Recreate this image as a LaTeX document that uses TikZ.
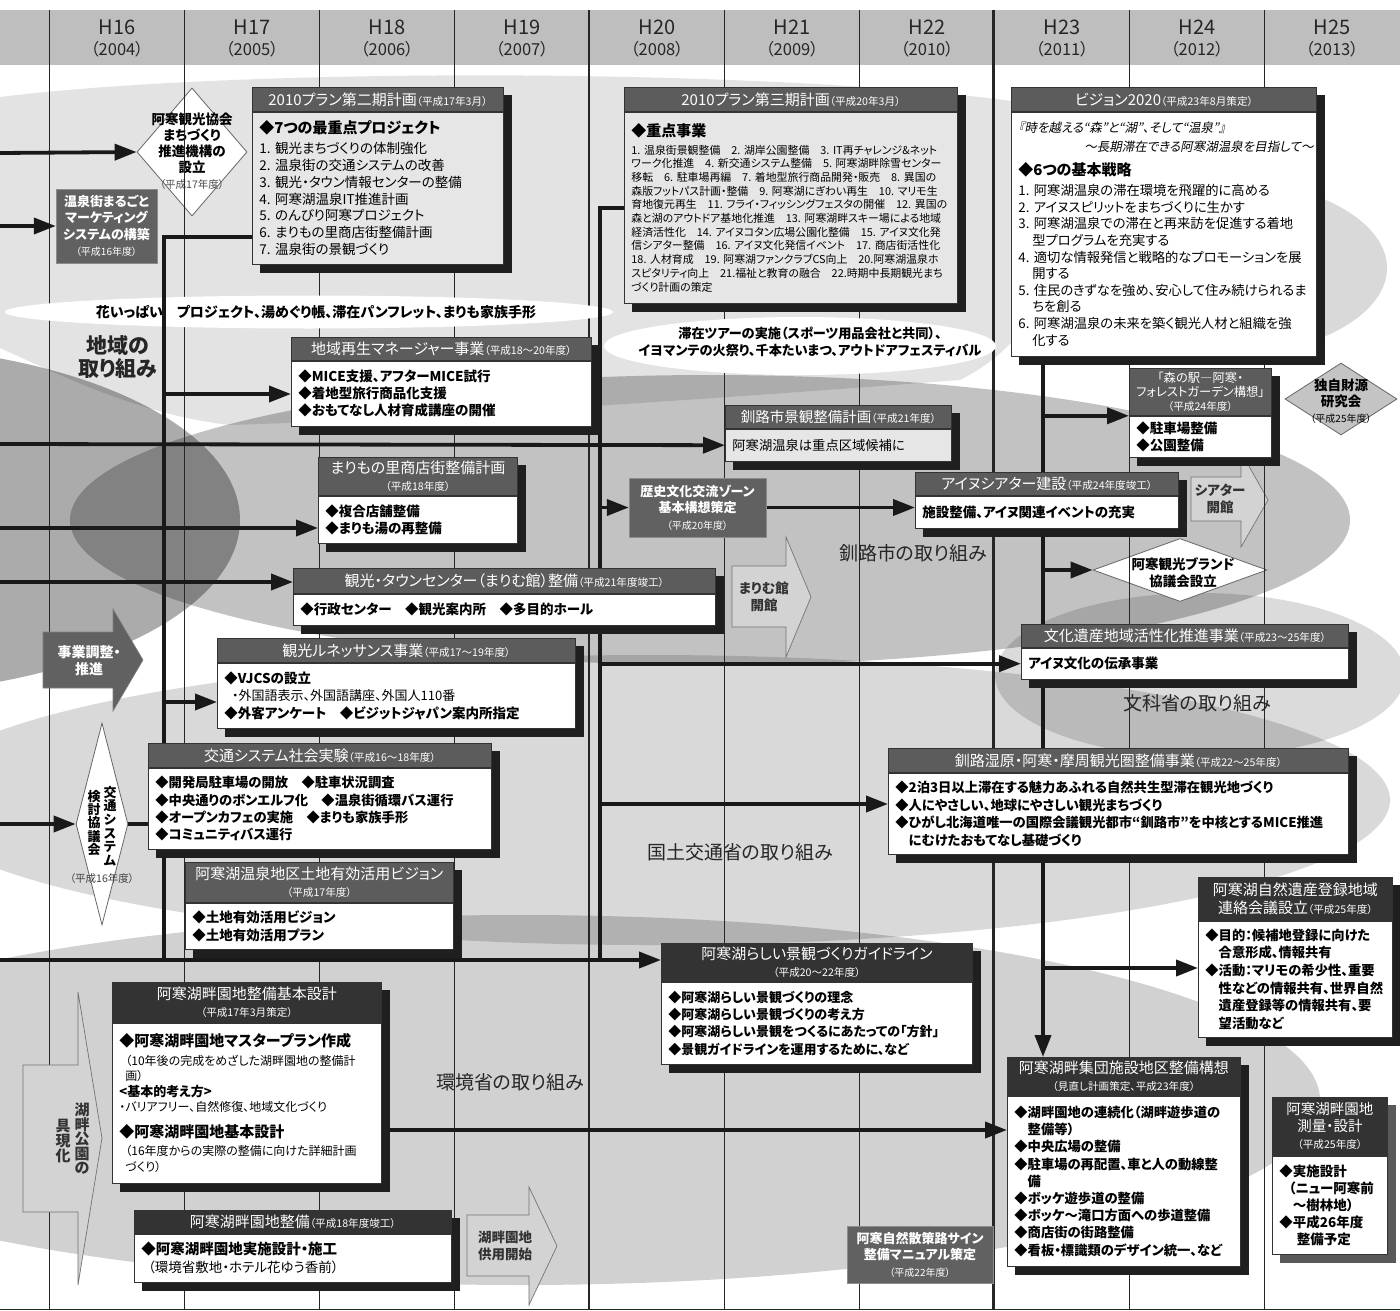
\documentclass[tikz,border=0pt]{standalone}
\usepackage{fontspec}
\setmainfont{Noto Sans CJK JP}[RawFeature={+palt}]
\newfontfamily\slfont{Noto Sans CJK JP}[FakeSlant=0.2,RawFeature={+palt}]
\usetikzlibrary{arrows.meta,positioning,calc,shapes.geometric}
\pgfdeclarelayer{blobs}
\pgfdeclarelayer{lines}
\pgfdeclarelayer{shade}
\pgfsetlayers{blobs,lines,shade,main}
\definecolor{bandgray}{HTML}{BEBEBE}
\definecolor{headgray}{HTML}{5C5C5C}
\definecolor{headdark}{HTML}{333333}
\definecolor{bodygray}{HTML}{E6E6E6}
\definecolor{arrowgray}{HTML}{D3D3D3}
\newcommand\fsz[2]{\fontsize{#1}{#2}\selectfont}
\newcommand\nendo[1]{{\fsz{10.6}{12.5}\mdseries #1}}
\newcommand\boxshadow[3][black!88]{%
  \begin{pgfonlayer}{shade}
    \fill[#1] ($(#2.north west)+(8,8)$) rectangle ($(#3.south east)+(8,8)$);
  \end{pgfonlayer}}

\begin{document}
\begin{tikzpicture}[x=1pt, y=-1pt,
    head/.style={rectangle, draw=black!80, line width=0.8pt, fill=headgray, text=white, align=center, anchor=north west, inner xsep=6pt, inner ysep=1pt, font=\fsz{15}{17.5}},
    envhead/.style={head, fill=headdark},
    body/.style={rectangle, draw=black!80, line width=0.8pt, fill=white, align=left, anchor=north west, inner xsep=7pt, inner ysep=2pt, font=\fsz{13}{17}\bfseries},
    graybody/.style={body, fill=bodygray},
    darkbox/.style={rectangle, draw=black!45, fill=black!62, text=white, align=center, inner sep=2pt, font=\fsz{13}{16.5}\bfseries},
    diam/.style={diamond, draw=black!60, line width=0.8pt, fill=white, inner sep=0pt},
    oval/.style={ellipse, fill=white, inner sep=0pt},
    blabel/.style={align=center, text=black!85, font=\fsz{19}{22}},
    arrtext/.style={align=center, text=black!80, font=\fsz{13.5}{17}\bfseries},
    yearlab/.style={align=center, text=black!85, font=\fsz{20}{21}},
    blockarrow/.style={fill=arrowgray, draw=black!55, line width=0.7pt},
    conn/.style={line width=3.8pt, black!90},
    arr/.style={conn, -{Triangle[length=22pt,width=16pt]}},
    gridline/.style={line width=0.8pt, black!85}
  ]
  \useasboundingbox (0,0) rectangle (1400,1311);

  % background
  \begin{pgfonlayer}{blobs}
    \fill[white] (0,0) rectangle (1400,1311);
    \fill[bandgray] (0,10) rectangle (1400,65);
    \begin{scope}
      \clip (0,0) rectangle (1400,1311);
      \fill[black, fill opacity=.11] (0,97) .. controls (250,66) and (800,68) .. (1040,105)
        .. controls (1080,220) and (1060,330) .. (960,380)
        .. controls (700,400) and (400,420) .. (230,425)
        .. controls (140,415) and (60,375) .. (0,348) -- cycle;
      \fill[black, fill opacity=.15] (1210,268) ellipse [x radius=177, y radius=90];
      \fill[black, fill opacity=.33] (-150,520) ellipse [x radius=390, y radius=175];
      \fill[black, fill opacity=.24] (710,520) ellipse [x radius=640, y radius=145];
      \fill[black, fill opacity=.14] (1200,675) ellipse [x radius=205, y radius=82];
      \fill[black, fill opacity=.15] (650,800) ellipse [x radius=740, y radius=145];
      \fill[black, fill opacity=.18] (520,1100) ellipse [x radius=800, y radius=185];
    \end{scope}

    % diamonds
    \node[diam, minimum width=110pt, minimum height=128pt] (kyokai) at (192,152) {};
    \node[align=center, font=\fsz{13.5}{16}\bfseries] (kyokaitxt) at (192,151)
      {阿寒観光協会\\まちづくり\\推進機構の\\設立\\{\fsz{10.5}{12}\mdseries\color{black!70}（平成17年度）}};
    \node[diam, minimum width=174pt, minimum height=63pt] (brand) at (1180,570) {};
    \node[align=center, font=\fsz{13.5}{17}\bfseries] (brandtxt) at (1183,573) {阿寒観光ブランド\\協議会設立};
    \node[diam, fill=black!23, minimum width=112pt, minimum height=72pt] (zaigen) at (1341,399) {};
    \node[align=center, font=\fsz{13.5}{16}\bfseries] (zaigentxt) at (1341,401)
      {独自財源\\研究会\\{\fsz{10}{11}\mdseries（平成25年度）}};
    \node[diam, minimum width=52pt, minimum height=202pt] (kotsukyo) at (102,824) {};
    \node[align=center, font=\fsz{13}{13.6}\bfseries] (kotsukyoR) at (110,826) {交\\通\\シ\\ス\\テ\\ム};
    \node[align=center, font=\fsz{13}{12.3}\bfseries] (kotsukyoL) at (94,823) {検\\討\\協\\議\\会};
    \node[font=\fsz{10.5}{12}, text=black!75] (kotsukyoyr) at (102,879) {（平成16年度）};

    % labels
    \node[blabel, font=\fsz{21}{23}\bfseries] (chiiki) at (118,357) {地域の\\取り組み};
    \node[blabel] (kushiro) at (913,553) {釧路市の取り組み};
    \node[blabel] (monka) at (1197,703) {文科省の取り組み};
    \node[blabel] (kokudo) at (740,852) {国土交通省の取り組み};
    \node[blabel] (kankyo) at (510,1082) {環境省の取り組み};

    % light block arrows
    \draw[blockarrow] (1191,477) -- (1241,477) -- (1241,452) -- (1268,500) -- (1241,547) -- (1241,521) -- (1191,521) -- cycle;
    \node[arrtext] (theateropen) at (1220,499) {シアター\\開館};
    \draw[blockarrow] (732,566) -- (786,566) -- (786,537) -- (811,597) -- (786,657) -- (786,627) -- (732,627) -- cycle;
    \node[arrtext] (marimuopen) at (764,597) {まりむ館\\開館};
    \draw[blockarrow] (467,1215) -- (529,1215) -- (529,1187) -- (557,1246) -- (529,1305) -- (529,1276) -- (467,1276) -- cycle;
    \node[arrtext] (kohanopen) at (505,1246) {湖畔園地\\供用開始};

    % year grid
    \foreach \i in {0,...,9}
      \draw[gridline] (49+135*\i,10) -- (49+135*\i,1310);
    \draw[gridline, line width=1.6pt] (589,10) -- (589,1310);
    \draw[gridline, line width=1.6pt] (993,10) -- (993,1310);
    \draw[gridline] (0,1309) -- (1400,1309);
    \foreach \i in {0,...,9}{
      \pgfmathtruncatemacro\hy{16+\i}
      \pgfmathtruncatemacro\wy{2004+\i}
      \node[yearlab] (yr\i) at (117+135*\i,38) {H\hy\\{\fsz{16.5}{18}（\wy）}};
    }

    % white ovals
    \node[oval, minimum width=608pt, minimum height=33pt] (hana) at (309,312) {};
    \node[font=\fsz{14}{16}\bfseries] (hanatxt) at (316,312)
      {花いっぱい　プロジェクト、湯めぐり帳、滞在パンフレット、まりも家族手形};
    \node[oval, minimum width=392pt, minimum height=58pt] (taizai) at (800,346) {};
    \node[align=center, font=\fsz{13.2}{17.5}\bfseries] (taizaitxt) at (810,342)
      {滞在ツアーの実施（スポーツ用品会社と共同）、\\イヨマンテの火祭り、千本たいまつ、アウトドアフェスティバル};
  \end{pgfonlayer}

  % ---- 地域の取り組み
  \node[darkbox, minimum width=101pt, minimum height=74pt] (marugoto) at (106.5,226)
    {温泉街まるごと\\マーケティング\\システムの構築\\{\fsz{10}{12}\mdseries（平成16年度）}};

  \node[head, text width=239pt, minimum height=24pt] (plan2h) at (252,87) {2010プラン第二期計画\nendo{（平成17年3月）}};
  \node[graybody, text width=237pt, minimum height=152pt, font=\fsz{13.5}{16.8}\mdseries] (plan2) at (plan2h.south west)
    {{\fsz{15}{18}\bfseries ◆7つの最重点プロジェクト}\\[3pt]
     1.~観光まちづくりの体制強化\\
     2.~温泉街の交通システムの改善\\
     3.~観光・タウン情報センターの整備\\
     4.~阿寒湖温泉IT推進計画\\
     5.~のんびり阿寒プロジェクト\\
     6.~まりもの里商店街整備計画\\
     7.~温泉街の景観づくり};
  \boxshadow{plan2h}{plan2}

  \node[head, text width=321pt, minimum height=24pt] (plan3h) at (624,87) {2010プラン第三期計画\nendo{（平成20年3月）}};
  \node[graybody, text width=319pt, minimum height=191pt, font=\fsz{10.9}{13.7}\mdseries] (plan3) at (plan3h.south west)
    {{\fsz{15}{18}\bfseries ◆重点事業}\\[4pt]
     1.~温泉街景観整備　2.~湖岸公園整備　3.~IT再チャレンジ\&ネット\\
     ワーク化推進　4.~新交通システム整備　5.~阿寒湖畔除雪センター\\
     移転　6.~駐車場再編　7.~着地型旅行商品開発・販売　8.~異国の\\
     森版フットパス計画・整備　9.~阿寒湖にぎわい再生　10.~マリモ生\\
     育地復元再生　11.~フライ・フィッシングフェスタの開催　12.~異国の\\
     森と湖のアウトドア基地化推進　13.~阿寒湖畔スキー場による地域\\
     経済活性化　14.~アイヌコタン広場公園化整備　15.~アイヌ文化発\\
     信シアター整備　16.~アイヌ文化発信イベント　17.~商店街活性化\\
     18.~人材育成　19.~阿寒湖ファンクラブCS向上　20.阿寒湖温泉ホ\\
     スピタリティ向上　21.福祉と教育の融合　22.時期中長期観光まち\\
     づくり計画の策定};
  \boxshadow{plan3h}{plan3}

  \node[head, text width=293pt, minimum height=24pt] (visionh) at (1011,87) {ビジョン2020\nendo{（平成23年8月策定）}};
  \node[body, text width=291pt, minimum height=244pt, font=\fsz{13.3}{16.6}\mdseries] (vision) at (visionh.south west)
    {{\slfont\fsz{12.5}{16}『時を越える“森”と“湖”、そして“温泉”』}\\[2pt]
     \hspace*{66pt}{\slfont\fsz{12.5}{16}〜長期滞在できる阿寒湖温泉を目指して〜}\\[7pt]
     {\fsz{15}{18}\bfseries ◆6つの基本戦略}\\[4pt]
     1.~阿寒湖温泉の滞在環境を飛躍的に高める\\
     2.~アイヌスピリットをまちづくりに生かす\\
     3.~阿寒湖温泉での滞在と再来訪を促進する着地\\
     \hspace*{1.05em}型プログラムを充実する\\
     4.~適切な情報発信と戦略的なプロモーションを展\\
     \hspace*{1.05em}開する\\
     5.~住民のきずなを強め、安心して住み続けられるま\\
     \hspace*{1.05em}ちを創る\\
     6.~阿寒湖温泉の未来を築く観光人材と組織を強\\
     \hspace*{1.05em}化する};
  \boxshadow{visionh}{vision}

  \node[head, text width=288pt, minimum height=23pt] (saiseih) at (291,337) {地域再生マネージャー事業\nendo{（平成18〜20年度）}};
  \node[body, text width=286pt, minimum height=65pt, font=\fsz{13.5}{17}\bfseries] (saisei) at (saiseih.south west)
    {◆MICE支援、アフターMICE試行\\◆着地型旅行商品化支援\\◆おもてなし人材育成講座の開催};
  \boxshadow{saiseih}{saisei}

  \node[head, text width=187pt, minimum height=38pt] (marimoh) at (318,457) {まりもの里商店街整備計画\\\nendo{（平成18年度）}};
  \node[body, text width=185pt, minimum height=47pt, font=\fsz{13.5}{17}\bfseries] (marimo) at (marimoh.south west)
    {◆複合店舗整備\\◆まりも湯の再整備};
  \boxshadow{marimoh}{marimo}

  \node[head, text width=410pt, minimum height=25pt] (marimukanh) at (293,568) {観光・タウンセンター（まりむ館）整備\nendo{（平成21年度竣工）}};
  \node[body, text width=408pt, minimum height=31pt, font=\fsz{13.5}{17}\bfseries] (marimukan) at (marimukanh.south west)
    {◆行政センター　◆観光案内所　◆多目的ホール};
  \boxshadow{marimukanh}{marimukan}

  \node[head, text width=346pt, minimum height=24pt] (renaih) at (217,638) {観光ルネッサンス事業\nendo{（平成17〜19年度）}};
  \node[body, text width=344pt, minimum height=65pt, font=\fsz{13.5}{17.5}\bfseries] (renai) at (renaih.south west)
    {◆VJCSの設立\\{\mdseries\fsz{13}{15}\hspace*{0.6em}・外国語表示、外国語講座、外国人110番}\\◆外客アンケート　◆ビジットジャパン案内所指定};
  \boxshadow{renaih}{renai}

  \draw[fill=black!62, draw=black!50, line width=0.6pt] (43,632) -- (113,632) -- (113,609) -- (143,660) -- (113,711) -- (113,688) -- (43,688) -- cycle;
  \node[align=center, text=white, font=\fsz{14}{17}\bfseries] (jigyo) at (89,661) {事業調整・\\推進};

  \node[head, text width=331pt, minimum height=24pt] (kotsuh) at (148,743) {交通システム社会実験\nendo{（平成16〜18年度）}};
  \node[body, text width=329pt, minimum height=81pt, font=\fsz{13.3}{17.3}\bfseries] (kotsu) at (kotsuh.south west)
    {◆開発局駐車場の開放　◆駐車状況調査\\◆中央通りのボンエルフ化　◆温泉街循環バス運行\\◆オープンカフェの実施　◆まりも家族手形\\◆コミュニティバス運行};
  \boxshadow{kotsuh}{kotsu}

  \node[head, text width=256pt, minimum height=40pt] (tochih) at (185,862) {阿寒湖温泉地区土地有効活用ビジョン\\\nendo{（平成17年度）}};
  \node[body, text width=254pt, minimum height=46pt, font=\fsz{13.5}{18}\bfseries] (tochi) at (tochih.south west)
    {◆土地有効活用ビジョン\\◆土地有効活用プラン};
  \boxshadow{tochih}{tochi}

  % ---- 釧路市・文科省・国土交通省
  \node[head, text width=214pt, minimum height=23pt, font=\fsz{14.5}{17}] (keikanh) at (725,405) {釧路市景観整備計画\nendo{（平成21年度）}};
  \node[graybody, text width=212pt, minimum height=32pt, font=\fsz{13.3}{17}\mdseries] (keikan) at (keikanh.south west)
    {阿寒湖温泉は重点区域候補に};
  \boxshadow{keikanh}{keikan}

  \node[darkbox, minimum width=137pt, minimum height=59pt] (rekishi) at (697.5,507.5)
    {歴史文化交流ゾーン\\基本構想策定\\{\fsz{10}{12}\mdseries（平成20年度）}};

  \node[head, text width=130pt, minimum height=47pt, font=\fsz{12.3}{14}] (morinoekih) at (1129,368)
    {「森の駅―阿寒・\\フォレストガーデン構想」\\\nendo{（平成24年度）}};
  \node[body, text width=128pt, minimum height=41pt, font=\fsz{13.5}{17}\bfseries] (morinoeki) at (morinoekih.south west)
    {◆駐車場整備\\◆公園整備};
  \boxshadow{morinoekih}{morinoeki}

  \node[head, text width=251pt, minimum height=23pt] (theaterh) at (915,472) {アイヌシアター建設\nendo{（平成24年度竣工）}};
  \node[body, text width=249pt, minimum height=32pt, font=\fsz{13.5}{17}\bfseries] (theater) at (theaterh.south west)
    {施設整備、アイヌ関連イベントの充実};
  \boxshadow{theaterh}{theater}

  \node[head, text width=315pt, minimum height=23pt] (bunkah) at (1021,624) {文化遺産地域活性化推進事業\nendo{（平成23〜25年度）}};
  \node[body, text width=313pt, minimum height=31pt, font=\fsz{13.5}{17}\bfseries] (bunka) at (bunkah.south west)
    {アイヌ文化の伝承事業};
  \boxshadow{bunkah}{bunka}

  \node[head, text width=448pt, minimum height=24pt] (kankokenh) at (888,748) {釧路湿原・阿寒・摩周観光圏整備事業\nendo{（平成22〜25年度）}};
  \node[body, text width=446pt, minimum height=81pt, font=\fsz{13.3}{17.5}\bfseries] (kankoken) at (kankokenh.south west)
    {◆2泊3日以上滞在する魅力あふれる自然共生型滞在観光地づくり\\
     ◆人にやさしい、地球にやさしい観光まちづくり\\
     ◆ひがし北海道唯一の国際会議観光都市“釧路市”を中核とするMICE推進\\
     \hspace*{1em}にむけたおもてなし基礎づくり};
  \boxshadow{kankokenh}{kankoken}

  % ---- 環境省の取り組み
  \node[envhead, text width=182pt, minimum height=43pt] (isanh) at (1198,877) {阿寒湖自然遺産登録地域\\連絡会議設立\nendo{（平成25年度）}};
  \node[body, text width=180pt, minimum height=116pt, font=\fsz{13.3}{17.7}\bfseries] (isan) at (isanh.south west)
    {◆目的：候補地登録に向けた\\\hspace*{1em}合意形成、情報共有\\◆活動：マリモの希少性、重要\\\hspace*{1em}性などの情報共有、世界自然\\\hspace*{1em}遺産登録等の情報共有、要\\\hspace*{1em}望活動など};
  \boxshadow{isanh}{isan}

  \node[envhead, text width=299pt, minimum height=38pt] (guideh) at (661,943) {阿寒湖らしい景観づくりガイドライン\\\nendo{（平成20〜22年度）}};
  \node[body, text width=297pt, minimum height=82pt, font=\fsz{13}{17.4}\bfseries] (guide) at (guideh.south west)
    {◆阿寒湖らしい景観づくりの理念\\◆阿寒湖らしい景観づくりの考え方\\◆阿寒湖らしい景観をつくるにあたっての「方針」\\◆景観ガイドラインを運用するために、など};
  \boxshadow{guideh}{guide}

  \node[envhead, text width=257pt, minimum height=40pt] (kihonh) at (112,982) {阿寒湖畔園地整備基本設計\\\nendo{（平成17年3月策定）}};
  \node[body, text width=255pt, minimum height=160pt, font=\fsz{12}{15.5}\mdseries] (kihon) at (kihonh.south west)
    {{\fsz{15}{18}\bfseries ◆阿寒湖畔園地マスタープラン作成}\\[3pt]
     \hspace*{0.5em}（10年後の完成をめざした湖畔園地の整備計\\
     \hspace*{0.5em}画）\\
     {\fsz{13}{15}\bfseries <基本的考え方>}\\
     ・バリアフリー、自然修復、地域文化づくり\\[10pt]
     {\fsz{15}{18}\bfseries ◆阿寒湖畔園地基本設計}\\[3pt]
     \hspace*{0.5em}（16年度からの実際の整備に向けた詳細計画\\
     \hspace*{0.5em}づくり）};
  \boxshadow{kihonh}{kihon}

  \draw[blockarrow] (23,1065) -- (78,1065) -- (78,992) -- (102,1138) -- (78,1285) -- (78,1212) -- (23,1212) -- cycle;
  \node[align=center, text=black!80, font=\fsz{15}{14.5}\bfseries] (gugenR) at (82,1139) {湖\\畔\\公\\園\\の};
  \node[align=center, text=black!80, font=\fsz{15}{15}\bfseries] (gugenL) at (63,1141) {具\\現\\化};

  \node[envhead, text width=305pt, minimum height=23pt] (seibih) at (134,1210) {阿寒湖畔園地整備\nendo{（平成18年度竣工）}};
  \node[body, text width=303pt, minimum height=48pt, font=\fsz{13.5}{18}\bfseries] (seibi) at (seibih.south west)
    {{\fsz{14.5}{18}◆阿寒湖畔園地実施設計・施工}\\{\mdseries\hspace*{0.5em}（環境省敷地・ホテル花ゆう香前）}};
  \boxshadow{seibih}{seibi}

  \node[darkbox, minimum width=146pt, minimum height=57pt] (sansaku) at (920,1254.5)
    {阿寒自然散策路サイン\\整備マニュアル策定\\{\fsz{10}{12}\mdseries（平成22年度）}};

  \node[envhead, text width=221pt, minimum height=38pt] (shudanh) at (1007,1057) {阿寒湖畔集団施設地区整備構想\\\nendo{（見直し計画策定、平成23年度）}};
  \node[body, text width=219pt, minimum height=170pt, font=\fsz{13.3}{17.2}\bfseries] (shudan) at (shudanh.south west)
    {◆湖畔園地の連続化（湖畔遊歩道の\\\hspace*{1em}整備等）\\◆中央広場の整備\\◆駐車場の再配置、車と人の動線整\\\hspace*{1em}備\\◆ボッケ遊歩道の整備\\◆ボッケ〜滝口方面への歩道整備\\◆商店街の街路整備\\◆看板・標識類のデザイン統一、など};
  \boxshadow{shudanh}{shudan}

  \node[envhead, text width=103pt, minimum height=58pt, font=\fsz{14.5}{17}] (sokuryoh) at (1272,1097) {阿寒湖畔園地\\測量・設計\\\nendo{（平成25年度）}};
  \node[body, text width=101pt, minimum height=98pt, font=\fsz{13.5}{17}\bfseries] (sokuryo) at (sokuryoh.south west)
    {◆実施設計\\\hspace*{0.7em}（ニュー阿寒前\\\hspace*{1em}〜樹林地）\\◆平成26年度\\\hspace*{1.3em}整備予定};
  \boxshadow[black!65]{sokuryoh}{sokuryo}

  % connectors
  \begin{pgfonlayer}{lines}
    \coordinate (in1) at (0,153);
    \coordinate (in2) at (0,226);
    \coordinate (in3) at (0,444);
    \coordinate (in4) at (0,528);
    \coordinate (in5) at (0,582);
    \coordinate (in6) at (0,824);
    \coordinate (in7) at (0,960);
    \coordinate (trA) at (164,237);
    \coordinate (trB) at (600,208);
    \coordinate (trC) at (1043,355);
    \coordinate (y394) at (0,394);
    \coordinate (y702) at (0,702);
    \coordinate (y804) at (0,804);
    \coordinate (y968) at (0,968);
    \coordinate (y1130) at (0,1130);

    \draw[arr] (in1) -- (kyokai.west);
    \draw[arr] (in2) -- (marugoto.west);
    \draw[arr] (in3) -- (keikan.west);
    \draw[arr] (in4) -- (in4 -| marimo.west);
    \draw[arr] (in5) -- (in5 -| marimukanh.west);
    \draw[arr] (in6) -- (kotsukyo.west);
    \draw[conn] (kotsukyo.east) -- (kotsukyo.east -| kotsu.west);
    \draw[arr] (in7) -- (in7 -| guideh.west);

    \draw[conn] (trA -| plan2.west) -- (trA) -- (trA |- in7);
    \draw[arr] (trA |- y394) -- (y394 -| saisei.west);
    \draw[arr] (trA |- y702) -- (y702 -| renai.west);

    \draw[conn] (trB -| plan3.west) -- (trB) -- (trB |- in7);
    \draw[arr] (trB |- rekishi.west) -- (rekishi.west);
    \draw[arr] (rekishi.east) -- (rekishi.east -| theater.west);
    \draw[arr] (trB |- bunka.west) -- (bunka.west);
    \draw[arr] (trB |- y804) -- (y804 -| kankoken.west);

    \draw[arr] (trC) -- (trC |- shudanh.north);
    \draw[arr] (trC |- morinoekih.south) -- (morinoekih.south west);
    \draw[arr] (trC |- brand.west) -- (brand.west);
    \draw[arr] (trC |- y968) -- (y968 -| isan.west);

    \draw[arr] (kihon.east |- y1130) -- (y1130 -| shudan.west);
  \end{pgfonlayer}
\end{tikzpicture}
\end{document}
